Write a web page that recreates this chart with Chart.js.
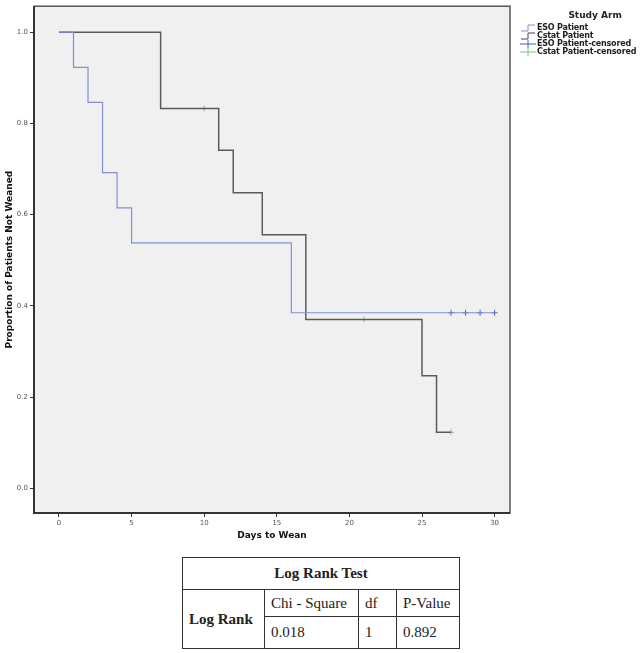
<!DOCTYPE html>
<html>
<head>
<meta charset="utf-8">
<script src="https://cdn.jsdelivr.net/npm/chart.js@4.4.1/dist/chart.umd.min.js"></script>
<style>
  body { margin: 0; background: #fff; }
  #wrap { position: relative; width: 641px; height: 653px; }
  #chartBox { position: absolute; left: 0; top: 0; width: 641px; height: 553px; }
  #legend { position: absolute; left: 520px; top: 10px; font-family: "DejaVu Sans", sans-serif; font-weight: bold; font-size: 8px; letter-spacing: -0.2px; color: #222; }
  #legend .head { font-size: 9px; letter-spacing: 0; text-align: center; margin: 0 0 4px 34px; }
  #legend .row { height: 8px; line-height: 8px; display: flex; align-items: center; white-space: nowrap; }
  #legend svg { width: 16px; height: 8px; margin-right: 1px; }
  table { position: absolute; left: 182px; top: 557px; width: 277px; table-layout: fixed; border-collapse: collapse; font-family: "Liberation Serif", serif; font-size: 15px; color: #222; }
  td { border: 1px solid #333; padding: 0 6px; overflow: hidden; white-space: nowrap; }
</style>
</head>
<body>
<div id="wrap">
  <div id="chartBox"><canvas id="km" width="641" height="553"></canvas></div>
  <div id="legend">
    <div class="head">Study Arm</div>
    <div class="row"><svg><polyline points="1,7 8,7 8,1 15,1" fill="none" stroke="#7f8fd6" stroke-width="1"/></svg>ESO Patient</div>
    <div class="row"><svg><polyline points="1,7 8,7 8,1 15,1" fill="none" stroke="#444" stroke-width="1"/></svg>Cstat Patient</div>
    <div class="row"><svg><line x1="0" y1="4" x2="16" y2="4" stroke="#4a5fc0"/><line x1="8" y1="0" x2="8" y2="8" stroke="#4a5fc0"/></svg>ESO Patient-censored</div>
    <div class="row"><svg><line x1="0" y1="4" x2="16" y2="4" stroke="#6fd07a"/><line x1="8" y1="0" x2="8" y2="8" stroke="#6fd07a"/></svg>Cstat Patient-censored</div>
  </div>
  <table>
    <colgroup><col style="width:82px"><col style="width:94px"><col style="width:38px"><col style="width:63px"></colgroup>
    <tr style="height:32px"><td colspan="4" style="text-align:center;font-weight:bold">Log Rank Test</td></tr>
    <tr style="height:27px">
      <td rowspan="2" style="font-weight:bold">Log Rank</td>
      <td>Chi - Square</td>
      <td>df</td>
      <td>P-Value</td>
    </tr>
    <tr style="height:32px"><td>0.018</td><td>1</td><td>0.892</td></tr>
  </table>
</div>
<script>
// survival steps
const esoDays = [0, 1, 2, 3, 4, 5, 16, 30];
const esoSurv = [1, 0.923, 0.846, 0.692, 0.615, 0.538, 0.385, 0.385];
const esoCensDays = [27, 28, 29, 30];
const esoCensSurv = [0.385, 0.385, 0.385, 0.385];

const cstatDays = [0, 7, 11, 12, 14, 17, 25, 26, 27];
const cstatSurv = [1, 0.833, 0.741, 0.648, 0.556, 0.370, 0.247, 0.123, 0.123];
const cstatCensDays = [10, 21, 27];
const cstatCensSurv = [0.833, 0.370, 0.123];

const xTicks = [0, 5, 10, 15, 20, 25, 30];
const yTicks = [0, 0.2, 0.4, 0.6, 0.8, 1.0];

const pts = (xs, ys) => xs.map((x, i) => ({ x: x, y: ys[i] }));

// gray plot background + frame
const plotBg = {
  id: "plotBg",
  beforeDraw(chart) {
    const { ctx, chartArea: a } = chart;
    ctx.save();
    ctx.fillStyle = "#f0f0f0";
    ctx.fillRect(a.left, a.top, a.right - a.left, a.bottom - a.top);
    ctx.restore();
  },
  afterDraw(chart) {
    const { ctx, chartArea: a } = chart;
    ctx.save();
    ctx.strokeStyle = "#555";
    ctx.lineWidth = 1.5;
    ctx.strokeRect(a.left, a.top, a.right - a.left, a.bottom - a.top);
    ctx.strokeStyle = "#333";
    ctx.lineWidth = 2;
    ctx.beginPath();
    ctx.moveTo(a.left, a.top);
    ctx.lineTo(a.left, a.bottom);
    ctx.lineTo(a.right, a.bottom);
    ctx.stroke();
    ctx.restore();
  }
};

new Chart(document.getElementById("km"), {
  type: "line",
  data: {
    datasets: [
      {
        label: "ESO Patient",
        data: pts(esoDays, esoSurv),
        borderColor: "#7f8fd6",
        borderWidth: 1.2,
        stepped: "before",
        pointRadius: 0,
        fill: false,
      },
      {
        label: "Cstat Patient",
        data: pts(cstatDays, cstatSurv),
        borderColor: "#5a5a5a",
        borderWidth: 1.5,
        stepped: "before",
        pointRadius: 0,
        fill: false,
      },
      {
        label: "ESO Patient-censored",
        data: pts(esoCensDays, esoCensSurv),
        showLine: false,
        pointStyle: "cross",
        pointRadius: 3,
        borderColor: "#4a5fc0",
        pointBorderWidth: 1,
      },
      {
        label: "Cstat Patient-censored",
        data: pts(cstatCensDays, cstatCensSurv),
        showLine: false,
        pointStyle: "cross",
        pointRadius: 3,
        borderColor: "#6fd07a",
        pointBorderWidth: 1,
      },
    ],
  },
  options: {
    responsive: false,
    animation: false,
    maintainAspectRatio: false,
    layout: { padding: { top: 3, right: 131, bottom: 0, left: 0 } },
    plugins: { legend: { display: false }, tooltip: { enabled: false } },
    scales: {
      x: {
        type: "linear",
        min: -1.72,
        max: 31.06,
        afterFit(s) { s.height = 40; },
        afterBuildTicks(s) { s.ticks = xTicks.map(v => ({ value: v })); },
        grid: { drawOnChartArea: false, tickLength: 4, color: "#333" },
        border: { display: false },
        ticks: { color: "#555", font: { family: "DejaVu Sans", size: 7 }, padding: 2, maxRotation: 0 },
        title: {
          display: true,
          text: "Days to Wean",
          color: "#111",
          font: { family: "DejaVu Sans", size: 9, weight: "bold" },
          padding: { top: 0, bottom: 12 },
        },
      },
      y: {
        type: "linear",
        min: -0.054,
        max: 1.057,
        afterFit(s) { s.width = 34; },
        afterBuildTicks(s) { s.ticks = yTicks.map(v => ({ value: v })); },
        grid: { drawOnChartArea: false, tickLength: 4, color: "#333" },
        border: { display: false },
        ticks: {
          color: "#555",
          font: { family: "DejaVu Sans", size: 7 },
          padding: 2,
          callback: v => v.toFixed(1),
        },
        title: {
          display: true,
          text: "Proportion of Patients Not Weaned",
          color: "#111",
          font: { family: "DejaVu Sans", size: 9, weight: "bold" },
          padding: { top: 4, bottom: 0 },
        },
      },
    },
  },
  plugins: [plotBg],
});
</script>
</body>
</html>
